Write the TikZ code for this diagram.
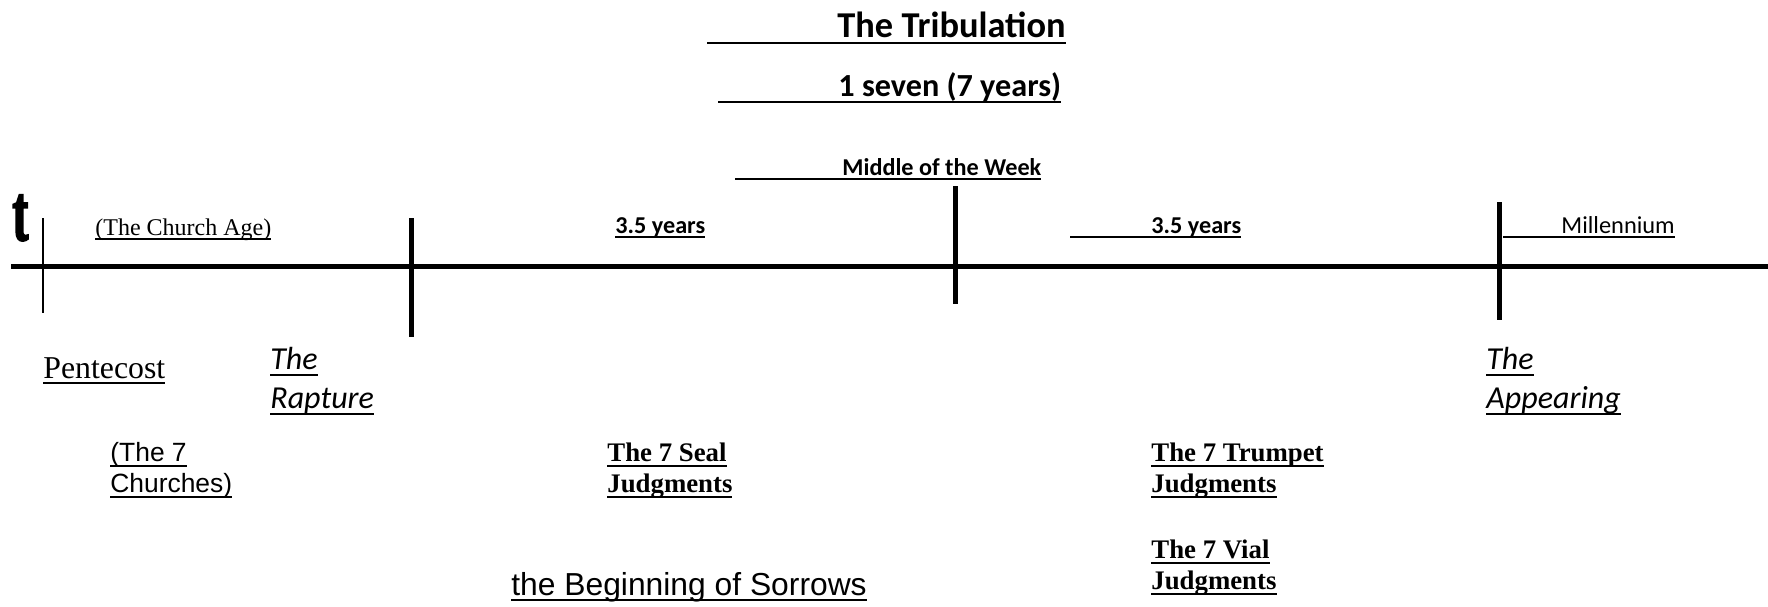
\documentclass[tikz,border=0pt]{standalone}
\usepackage{fontspec}
\setmainfont{Liberation Serif}
\newfontfamily\calibri{Carlito}
\newfontfamily\arial{Liberation Sans}
\newfontfamily\heavyt[FakeBold=3]{Liberation Serif}
\usetikzlibrary{positioning}

% word-style underline, optionally starting with an underlined gap
\newcommand{\undertext}[2][0pt]{\leavevmode\setbox0\hbox{\hspace{#1}#2}%
  \rlap{\vrule width\wd0 height -0.14em depth \dimexpr0.14em+1pt\relax}\box0}

\tikzset{
  lbl/.style={inner sep=0pt, anchor=base west},
  blk/.style={inner sep=0pt, anchor=north west, align=left},
  axis/.style={line width=2.5pt},
  bigtick/.style={line width=2.5pt},
  thintick/.style={line width=1pt},
}

\begin{document}
\begin{tikzpicture}[x=0.5pt, y=-0.5pt]
            \useasboundingbox (0,0) rectangle (1768,606);

            % time line and its marks
            \coordinate (axL) at (11,266);
            \coordinate (axR) at (1768,266);
            \coordinate (pentT) at (43,218);   \coordinate (pentB) at (43,313);
            \coordinate (rapT) at (411,218);   \coordinate (rapB) at (411,337);
            \coordinate (midT) at (955,186);   \coordinate (midB) at (955,304);
            \coordinate (appT) at (1499,202);  \coordinate (appB) at (1499,320);

            \draw [axis] (axL) -- (axR);
            \draw [thintick] (pentT) -- (pentB);
            \draw [bigtick] (rapT) -- (rapB);
            \draw [bigtick] (midT) -- (midB);
            \draw [bigtick] (appT) -- (appB);

            \node [lbl] (cross) at (12,240) {\scalebox{0.6}[1]{\heavyt\bfseries\fontsize{40}{40}\selectfont t}};

            % headings
            \node [lbl,font=\calibri\bfseries\fontsize{18.2}{21}\selectfont] (trib) at (707,37) {\undertext[65pt]{The Tribulation}};
            \node [lbl,font=\calibri\bfseries\fontsize{16.1}{19}\selectfont] (seven) at (718,96) {\undertext[60pt]{1 seven (7 years)}};
            \node [lbl,font=\calibri\bfseries\fontsize{12.1}{14}\selectfont] (middle) at (735,175) {\undertext[53.5pt]{Middle of the Week}};

            % above the line
            \node [lbl,font=\fontsize{12}{14}\selectfont] (church) at (95,235) {\undertext{(The Church Age)}};
            \node [lbl,font=\calibri\bfseries\fontsize{12.1}{14}\selectfont] (yearsA) at (615,233) {\undertext{3.5 years}};
            \node [lbl,font=\calibri\bfseries\fontsize{12.1}{14}\selectfont] (yearsB) at (1070,233) {\undertext[40.5pt]{3.5 years}};
            \node [lbl,font=\calibri\fontsize{12.2}{14}\selectfont] (mill) at (1503,233) {\undertext[29pt]{Millennium}};

            % below the line
            \node [lbl,font=\fontsize{15.9}{18}\selectfont] (pent) at (43,378) {\undertext{Pentecost}};
            \node [blk,font=\calibri\itshape\fontsize{16}{19.5}\selectfont] (rapture) at (270,347) {\undertext{The}\\\undertext{Rapture}};
            \node [blk,font=\calibri\itshape\fontsize{16}{19.5}\selectfont] (appearing) at (1486,347) {\undertext{The}\\\undertext{Appearing}};
            \node [blk,font=\arial\fontsize{13.2}{15.5}\selectfont] (churches) at (110,442) {\undertext{(The 7}\\\undertext{Churches)}};
            \node [blk,font=\bfseries\fontsize{13.4}{15.5}\selectfont] (seal) at (607,442) {\undertext{The 7 Seal}\\\undertext{Judgments}};
            \node [blk,font=\bfseries\fontsize{13.4}{15.5}\selectfont] (trumpet) at (1151,442) {\undertext{The 7 Trumpet}\\\undertext{Judgments}};
            \node [blk,font=\bfseries\fontsize{13.4}{15.5}\selectfont] (vial) at (1151,539) {\undertext{The 7 Vial}\\\undertext{Judgments}};
            \node [lbl,font=\arial\fontsize{15.9}{19}\selectfont] (sorrows) at (511,595) {\undertext{the Beginning of Sorrows}};
        \end{tikzpicture}
\end{document}
